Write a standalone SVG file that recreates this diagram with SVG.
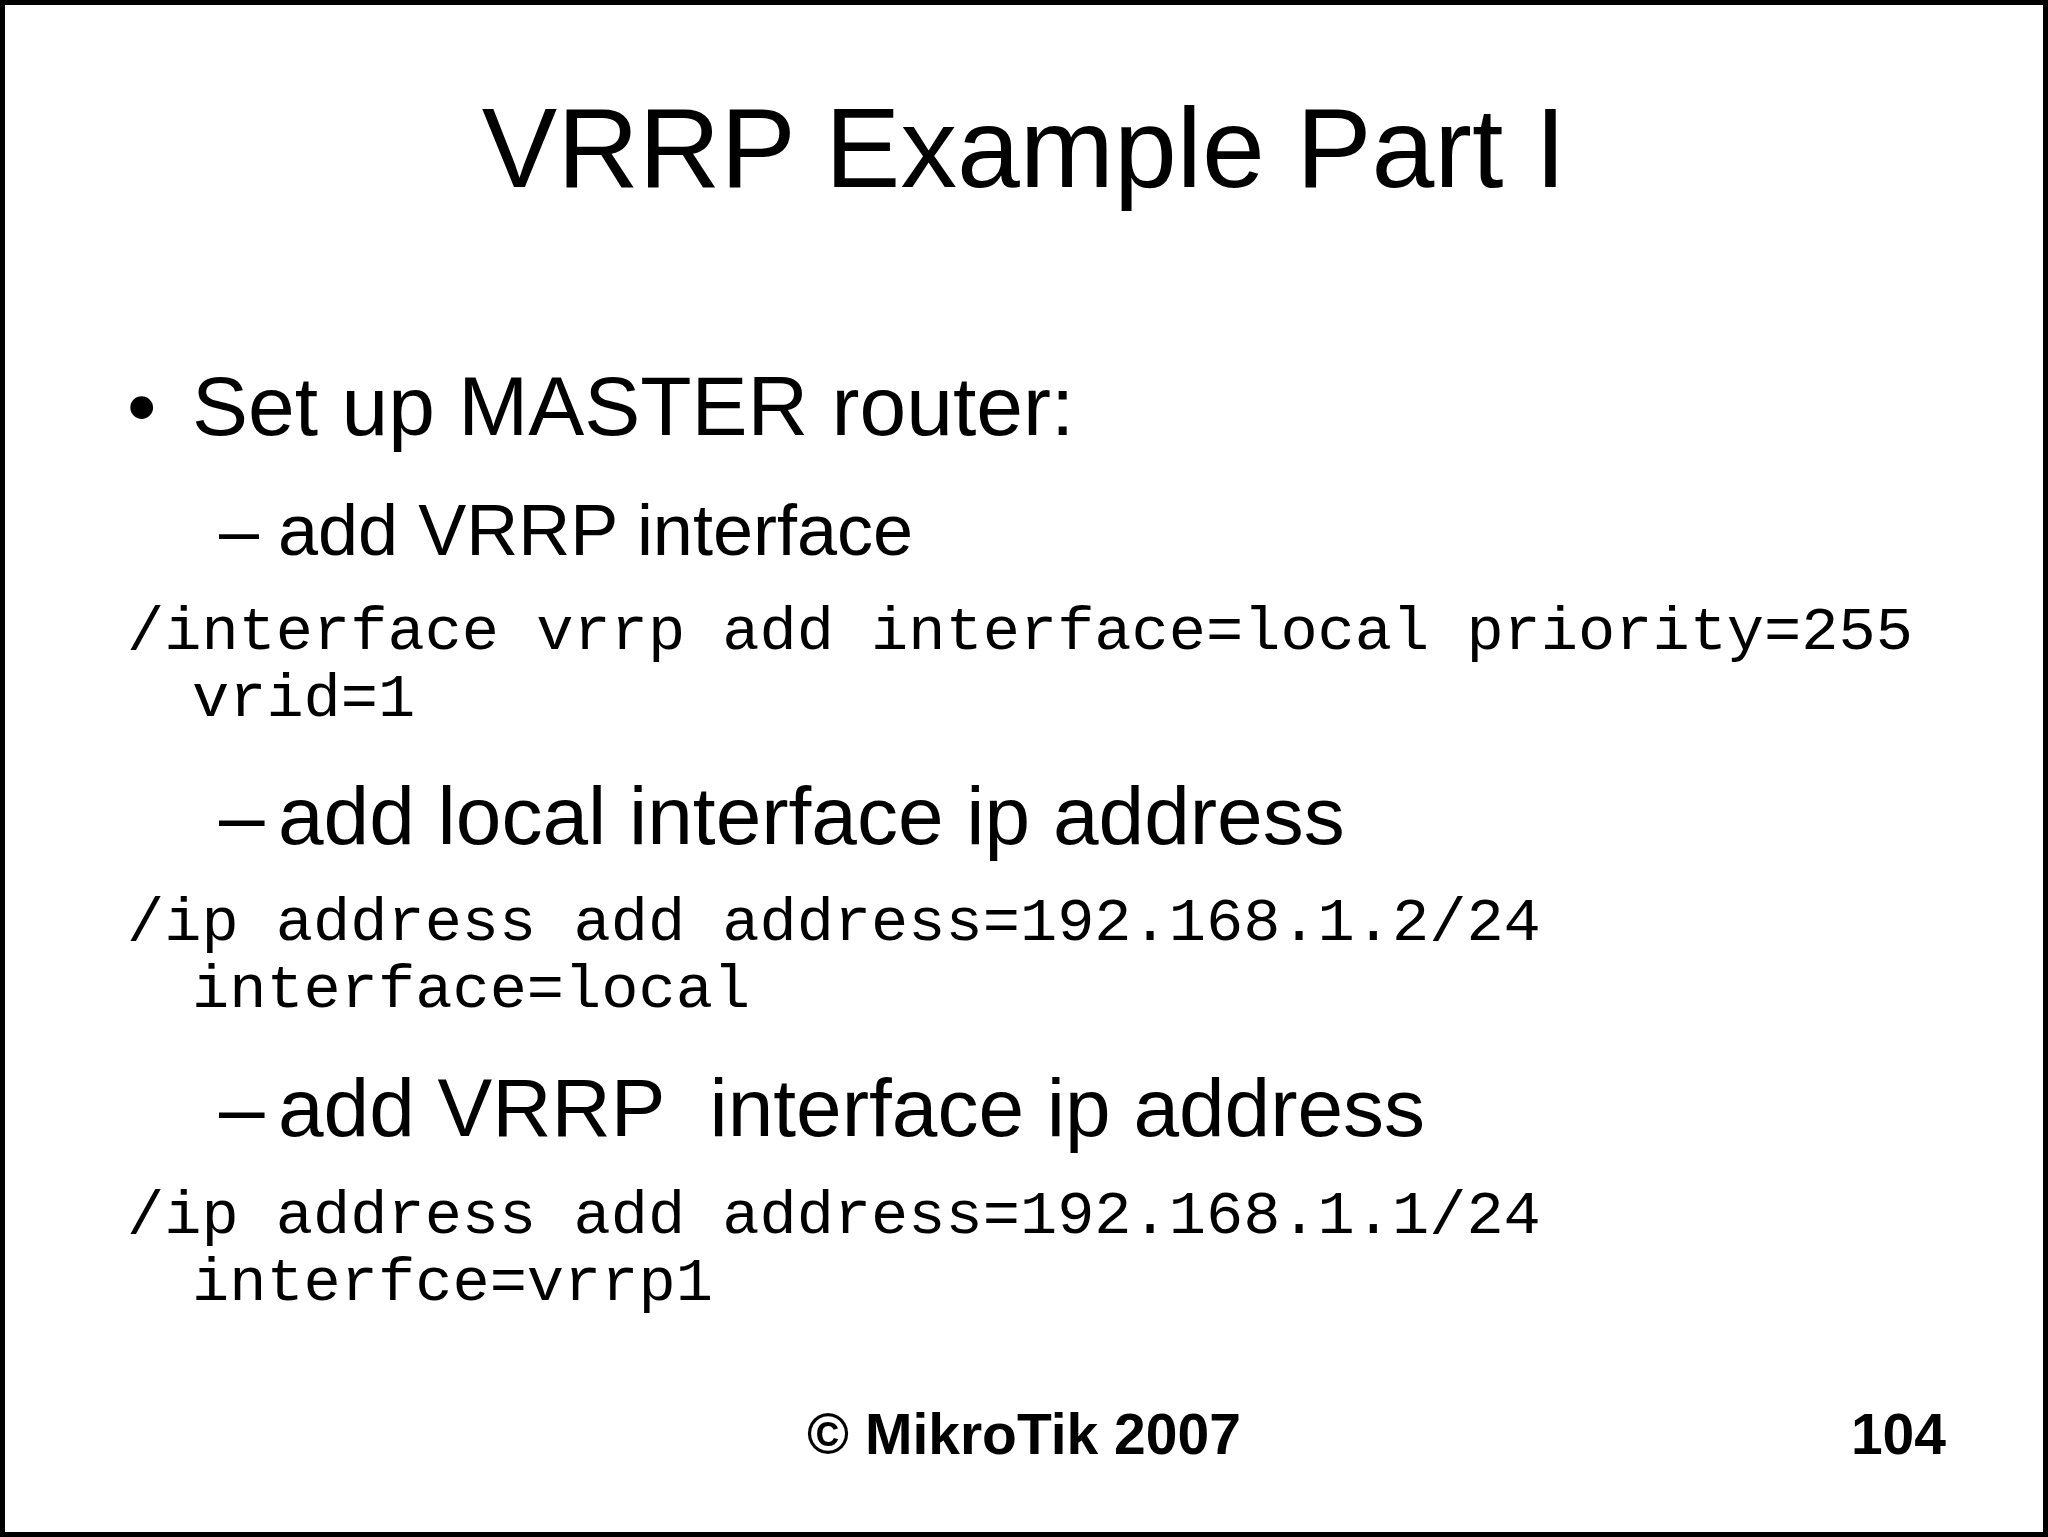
<svg xmlns="http://www.w3.org/2000/svg" width="2048" height="1537" viewBox="0 0 2048 1537">
<style>
.s{font-family:"Liberation Sans",Arial,sans-serif;fill:#000}
.m{font-family:"Liberation Mono","Courier New",monospace;font-size:62px;fill:#000}
</style>
<rect x="2.5" y="2.5" width="2043" height="1532" fill="#fff" stroke="#000" stroke-width="5"/>
<text class="s" x="1024" y="187" font-size="113" text-anchor="middle">VRRP Example Part I</text>
<text class="s" x="127" y="435" font-size="84">•</text>
<text class="s" x="192" y="435" font-size="84">Set up MASTER router:</text>
<text class="s" x="219" y="555" font-size="72">–</text>
<text class="s" x="278" y="555" font-size="72">add VRRP interface</text>
<text class="m" x="127" y="649">/interface vrrp add interface=local priority=255</text>
<text class="m" x="192" y="716">vrid=1</text>
<text class="s" x="219" y="844" font-size="82">–</text>
<text class="s" x="278" y="844" font-size="82">add local interface ip address</text>
<text class="m" x="127" y="940">/ip address add address=192.168.1.2/24</text>
<text class="m" x="192" y="1007">interface=local</text>
<text class="s" x="219" y="1136" font-size="82">–</text>
<text class="s" x="278" y="1136" font-size="82" xml:space="preserve">add VRRP  interface ip address</text>
<text class="m" x="127" y="1233">/ip address add address=192.168.1.1/24</text>
<text class="m" x="192" y="1300">interfce=vrrp1</text>
<text class="s" x="1024" y="1454" font-size="57" font-weight="bold" text-anchor="middle">© MikroTik 2007</text>
<text class="s" x="1946" y="1454" font-size="57" font-weight="bold" text-anchor="end">104</text>
</svg>
